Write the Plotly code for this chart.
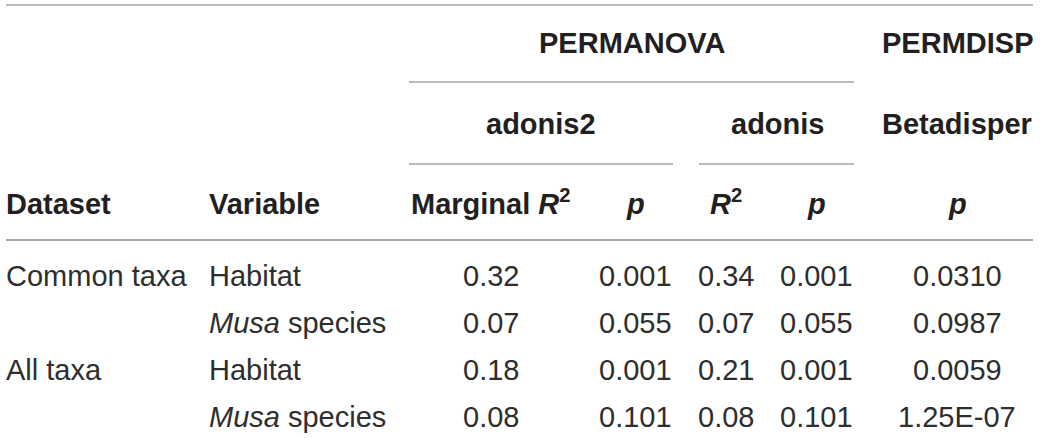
import plotly.graph_objects as go

# ---- data ----
datasets = ["Common taxa", "", "All taxa", ""]
variables = ["Habitat", "<i>Musa</i> species", "Habitat", "<i>Musa</i> species"]
adonis2_marginal_r2 = ["0.32", "0.07", "0.18", "0.08"]
adonis2_p = ["0.001", "0.055", "0.001", "0.101"]
adonis_r2 = ["0.34", "0.07", "0.21", "0.08"]
adonis_p = ["0.001", "0.055", "0.001", "0.101"]
betadisper_p = ["0.0310", "0.0987", "0.0059", "1.25E-07"]

group1_labels = ["PERMANOVA", "PERMDISP"]
group2_labels = ["adonis2", "adonis", "Betadisper"]
col_headers = ["Dataset", "Variable", "Marginal <i>R</i><sup>2</sup>", "<i>p</i>",
               "<i>R</i><sup>2</sup>", "<i>p</i>", "<i>p</i>"]

# ---- layout (pixel geometry) ----
W, H = 1040, 438
FONT = "Liberation Sans, Arial, Helvetica, sans-serif"
FS = 29
HEAD_C = "#231f20"
BODY_C = "#2e2e2e"
LINE_C = "#a6a6a6"

col_x = [4, 207, 491, 635, 726, 816, 957]
col_anchor = ["left", "left", "center", "center", "center", "center", "center"]
hdr_dy = [0, 0, -2, 0, -2, 0, 0]
row_y = [276, 323, 370, 417]
y_g1, y_g2, y_hdr = 43, 124, 204
g1_x = [632, 957]
g2_x = [541, 777, 957]

fig = go.Figure()
ann = []

def add(text, x, y, anchor, bold=False, color=BODY_C):
    ann.append(dict(text=f"<b>{text}</b>" if bold else text, x=x, y=y,
                    xref="x", yref="y", xanchor=anchor, yanchor="middle",
                    showarrow=False, font=dict(family=FONT, size=FS, color=color)))

for t, x in zip(group1_labels, g1_x):
    add(t, x, y_g1, "center", True, HEAD_C)
for t, x in zip(group2_labels, g2_x):
    add(t, x, y_g2, "center", True, HEAD_C)
for t, x, a, dy in zip(col_headers, col_x, col_anchor, hdr_dy):
    add(t, x, y_hdr + dy, a, True, HEAD_C)

columns = [datasets, variables, adonis2_marginal_r2, adonis2_p, adonis_r2, adonis_p, betadisper_p]
for ci, col in enumerate(columns):
    for ri, val in enumerate(col):
        if val:
            add(val, col_x[ci], row_y[ri], col_anchor[ci])

shapes = []
def hline(x0, x1, y, w=1.5):
    shapes.append(dict(type="line", xref="x", yref="y", x0=x0, x1=x1, y0=y, y1=y,
                       line=dict(color=LINE_C, width=w)))

hline(6, 1033, 5, 1.5)
hline(409, 854, 82, 1.5)
hline(409, 673, 164, 1.5)
hline(699, 854, 164, 1.5)
hline(6, 1033, 240, 2)

fig.update_layout(
    width=W, height=H,
    margin=dict(l=0, r=0, t=0, b=0),
    paper_bgcolor="white", plot_bgcolor="white",
    xaxis=dict(range=[0, W], visible=False, fixedrange=True),
    yaxis=dict(range=[H, 0], visible=False, fixedrange=True),
    annotations=ann, shapes=shapes, showlegend=False,
)
fig.write_html("out.html", config={"displayModeBar": False},
               post_script="document.body.style.margin='0px';document.body.style.overflow='hidden';")
